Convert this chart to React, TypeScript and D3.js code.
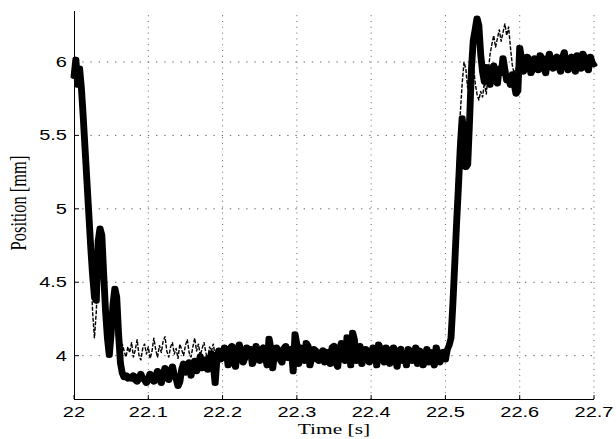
import React from 'react';
import * as d3 from 'd3';

const startTime = 22.0;
const sampleStep = 0.0025;

// Thick solid trace (measured position, mm)
const measured: number[] = [
  5.90, 6.02, 5.84, 5.96, 5.82, 5.62, 5.40, 5.18, 4.96, 4.74,
  4.55, 4.40, 4.37, 4.78, 4.87, 4.82, 4.55, 4.30, 4.12, 4.00,
  4.15, 4.35, 4.46, 4.40, 4.15, 3.95, 3.88, 3.85, 3.87, 3.84,
  3.86, 3.84, 3.87, 3.83, 3.82, 3.85, 3.88, 3.84, 3.83, 3.81,
  3.85, 3.88, 3.83, 3.82, 3.86, 3.90, 3.84, 3.81, 3.87, 3.92,
  3.86, 3.83, 3.89, 3.93, 3.87, 3.84, 3.79, 3.82, 3.91, 3.95,
  3.88, 3.90, 3.96, 3.86, 3.92, 3.97, 3.89, 3.94, 4.00, 3.91,
  3.95, 3.98, 3.90, 3.96, 4.02, 3.94, 3.81, 3.98, 4.04, 3.97,
  3.99, 4.06, 4.03, 3.93, 4.05, 4.07, 3.96, 3.92, 4.04, 4.08,
  4.01, 3.95, 3.98, 4.06, 4.02, 4.05, 3.94, 3.97, 4.07, 4.03,
  3.96, 4.04, 4.06, 3.99, 3.93, 4.12, 4.05, 3.91, 4.02, 4.06,
  4.04, 3.97, 3.95, 4.05, 4.07, 3.98, 4.03, 4.05, 3.89, 4.15,
  4.08, 3.94, 4.06, 4.03, 3.96, 4.09, 4.07, 3.93, 3.98, 4.05,
  4.04, 3.97, 3.96, 4.02, 4.04, 3.95, 3.98, 4.03, 3.94, 4.06,
  4.07, 3.95, 3.92, 4.04, 4.09, 4.02, 3.96, 4.13, 4.10, 3.93,
  4.16, 4.11, 3.96, 4.02, 4.07, 3.94, 3.99, 4.05, 4.03, 3.95,
  3.98, 4.06, 4.04, 3.93, 4.08, 4.05, 3.97, 3.95, 4.06, 4.02,
  3.94, 4.03, 4.06, 3.98, 3.92, 4.04, 4.05, 3.96, 4.02, 3.93,
  4.05, 4.03, 3.96, 3.98, 4.06, 3.94, 4.04, 4.02, 3.93, 3.97,
  4.05, 3.95, 4.03, 3.97, 3.93, 4.06, 4.02, 3.95, 3.99, 4.03,
  3.97, 4.04, 4.07, 4.12, 4.35, 4.62, 4.90, 5.15, 5.42, 5.62,
  5.50, 5.28, 5.30, 5.60, 5.95, 6.15, 6.22, 6.30, 6.25, 6.05,
  5.93, 5.86, 5.97, 5.90, 5.84, 5.95, 5.98, 5.87, 5.85, 5.96,
  5.92, 6.03, 5.95, 5.87, 5.90, 5.84, 5.92, 5.85, 5.78, 5.80,
  6.10, 6.02, 5.93, 5.97, 6.04, 6.02, 5.92, 5.95, 6.03, 5.99,
  5.94, 6.05, 6.03, 5.96, 5.92, 6.01, 6.06, 5.98, 5.95, 6.02,
  6.04, 5.97, 5.93, 6.03, 6.07, 5.99, 5.94, 6.02, 6.04, 5.96,
  5.93, 6.05, 6.01, 5.95, 6.06, 6.03, 5.96, 5.94, 6.04, 6.00,
  5.98,
];

// Thin dashed trace (reference position, mm)
const reference: number[] = [
  5.92, 6.00, 5.86, 5.94, 5.80, 5.58, 5.35, 5.12, 4.90, 4.66,
  4.30, 4.12, 4.30, 4.62, 4.72, 4.65, 4.42, 4.20, 4.05, 4.02,
  4.20, 4.34, 4.30, 4.10, 4.02, 3.98, 4.08, 4.03, 3.99, 4.06,
  4.02, 4.09, 3.99, 4.04, 4.11, 4.00, 3.97, 4.05, 4.08, 4.01,
  4.06, 3.98, 4.03, 4.12, 4.04, 3.99, 4.07, 4.02, 4.10, 4.13,
  4.03, 3.99, 4.06, 4.09, 4.01, 4.05, 3.98, 4.08, 4.04, 4.00,
  4.07, 4.11, 4.02, 3.99, 4.06, 4.12, 4.03, 4.08, 4.00, 4.05,
  4.09, 4.02, 3.98, 4.06, 4.03, 4.08, 4.00, 4.05, 4.02, 3.99,
  4.04, 4.01, 3.98, 4.03, 4.05, 3.99, 4.02, 4.04, 3.98, 4.01,
  4.03, 3.99, 4.02, 3.97, 4.04, 4.00, 4.01, 3.98, 4.03, 4.00,
  4.02, 3.98, 4.04, 3.99, 4.06, 4.01, 4.03, 3.97, 4.02, 4.00,
  4.03, 3.98, 4.01, 3.99, 4.04, 3.98, 4.02, 3.97, 4.05, 4.01,
  4.03, 3.99, 4.02, 3.98, 4.04, 4.00, 4.01, 3.97, 4.03, 3.99,
  4.02, 3.98, 4.03, 4.00, 4.01, 3.97, 4.04, 3.99, 4.02, 4.00,
  4.03, 3.98, 4.05, 4.00, 4.04, 3.99, 4.06, 4.01, 4.03, 3.99,
  4.05, 4.00, 4.03, 3.98, 4.04, 4.00, 4.02, 3.99, 4.03, 3.98,
  4.02, 3.99, 4.03, 4.00, 4.01, 3.98, 4.03, 3.99, 4.02, 4.00,
  4.01, 3.98, 4.03, 3.99, 4.02, 3.97, 4.03, 4.00, 4.01, 3.98,
  4.02, 3.99, 4.03, 4.00, 4.01, 3.98, 4.02, 3.99, 4.03, 4.00,
  4.01, 3.98, 4.02, 4.00, 4.03, 3.99, 4.01, 3.98, 4.02, 4.00,
  4.01, 4.03, 4.08, 4.30, 4.60, 4.90, 5.20, 5.45, 5.65, 5.85,
  6.00, 5.95, 5.82, 5.95, 6.08, 5.98, 5.86, 5.78, 5.74, 5.80,
  5.76, 5.86, 5.78, 5.92, 6.05, 6.12, 6.18, 6.10, 6.16, 6.22,
  6.14, 6.20, 6.26, 6.18, 6.24, 6.10, 5.98, 5.92, 5.96, 5.90,
  6.06, 6.00, 5.95, 5.98, 6.03, 6.00, 5.94, 5.97, 6.02, 5.98,
  5.95, 6.03, 6.01, 5.97, 5.94, 6.00, 6.04, 5.98, 5.96, 6.01,
  6.03, 5.98, 5.95, 6.02, 6.05, 5.99, 5.96, 6.01, 6.03, 5.97,
  5.95, 6.03, 6.00, 5.97, 6.04, 6.02, 5.97, 5.96, 6.03, 6.00,
  5.99,
];

const xTicks = [22, 22.1, 22.2, 22.3, 22.4, 22.5, 22.6, 22.7];
const xTickLabels = ['22', '22.1', '22.2', '22.3', '22.4', '22.5', '22.6', '22.7'];
const yTicks = [4, 4.5, 5, 5.5, 6];
const yTickLabels = ['4', '4.5', '5', '5.5', '6'];
const xLabel = 'Time [s]';
const yLabel = 'Position [mm]';

export default function App() {
  const W = 616, H = 439;
  const left = 74, right = 594, top = 11, bottom = 399;
  const SX = 1.43; // horizontal stretch of the original figure

  const x = d3.scaleLinear().domain([22, 22.7]).range([left, right]);
  const xs = d3.scaleLinear().domain([22, 22.7]).range([left / SX, right / SX]);
  const y = d3.scaleLinear().domain([3.705, 6.347]).range([bottom, top]);

  const lineGen = d3
    .line<number>()
    .x((_, i) => xs(startTime + i * sampleStep))
    .y((d) => y(d))
    .curve(d3.curveLinear);

  const tickFont = '"Liberation Sans", Arial, sans-serif';
  const labelFont = '"Liberation Serif", "DejaVu Serif", serif';

  return (
    <svg
      width={W}
      height={H}
      viewBox={`0 0 ${W} ${H}`}
      style={{ position: 'absolute', left: 0, top: 0, background: '#fff' }}
    >
      <rect x={0} y={0} width={W} height={H} fill="#fff" />
      {/* grid */}
      {xTicks.slice(1).map((t) => (
        <line
          key={'gx' + t}
          x1={x(t)}
          x2={x(t)}
          y1={bottom}
          y2={top}
          stroke="#666"
          strokeWidth={1}
          strokeDasharray="1 4.8"
        />
      ))}
      {yTicks.map((v) => (
        <line
          key={'gy' + v}
          x1={left}
          x2={right}
          y1={y(v)}
          y2={y(v)}
          stroke="#666"
          strokeWidth={1}
          strokeDasharray="1.4 6.8"
        />
      ))}
      {/* data */}
      <g transform={`scale(${SX},1)`}>
        <path
          d={lineGen(reference) || ''}
          fill="none"
          stroke="#000"
          strokeWidth={1}
          strokeDasharray="4 1.5"
          strokeLinejoin="round"
        />
        <path
          d={lineGen(measured) || ''}
          fill="none"
          stroke="#000"
          strokeWidth={4.8}
          strokeLinejoin="round"
          strokeLinecap="round"
        />
      </g>
      {/* axes */}
      <line x1={left} x2={right} y1={bottom + 0.5} y2={bottom + 0.5} stroke="#000" strokeWidth={1} />
      <line x1={left + 0.5} x2={left + 0.5} y1={top} y2={bottom} stroke="#000" strokeWidth={1} />
      {xTicks.map((t) => (
        <line key={'tx' + t} x1={x(t)} x2={x(t)} y1={bottom} y2={bottom - 4} stroke="#000" strokeWidth={1} />
      ))}
      {yTicks.map((v) => (
        <line key={'ty' + v} x1={left} x2={left + 5} y1={y(v)} y2={y(v)} stroke="#000" strokeWidth={1} />
      ))}
      {xTicks.map((t, i) => (
        <text
          key={'lx' + t}
          transform={`translate(${x(t)},417) scale(${SX},1)`}
          textAnchor="middle"
          fontFamily={tickFont}
          fontSize={14}
          fill="#000"
        >
          {xTickLabels[i]}
        </text>
      ))}
      {yTicks.map((v, i) => (
        <text
          key={'ly' + v}
          transform={`translate(67,${y(v) + 5}) scale(${SX},1)`}
          textAnchor="end"
          fontFamily={tickFont}
          fontSize={14}
          fill="#000"
        >
          {yTickLabels[i]}
        </text>
      ))}
      <text
        transform={`translate(${(left + right) / 2},434) scale(${SX},1)`}
        textAnchor="middle"
        fontFamily={labelFont}
        fontSize={15}
        fill="#000"
      >
        {xLabel}
      </text>
      <text
        transform={`translate(25.5,${(top + bottom) / 2 - 2}) scale(${SX},1) rotate(-90)`}
        textAnchor="middle"
        fontFamily={labelFont}
        fontSize={16.5}
        fill="#000"
      >
        {yLabel}
      </text>
    </svg>
  );
}
